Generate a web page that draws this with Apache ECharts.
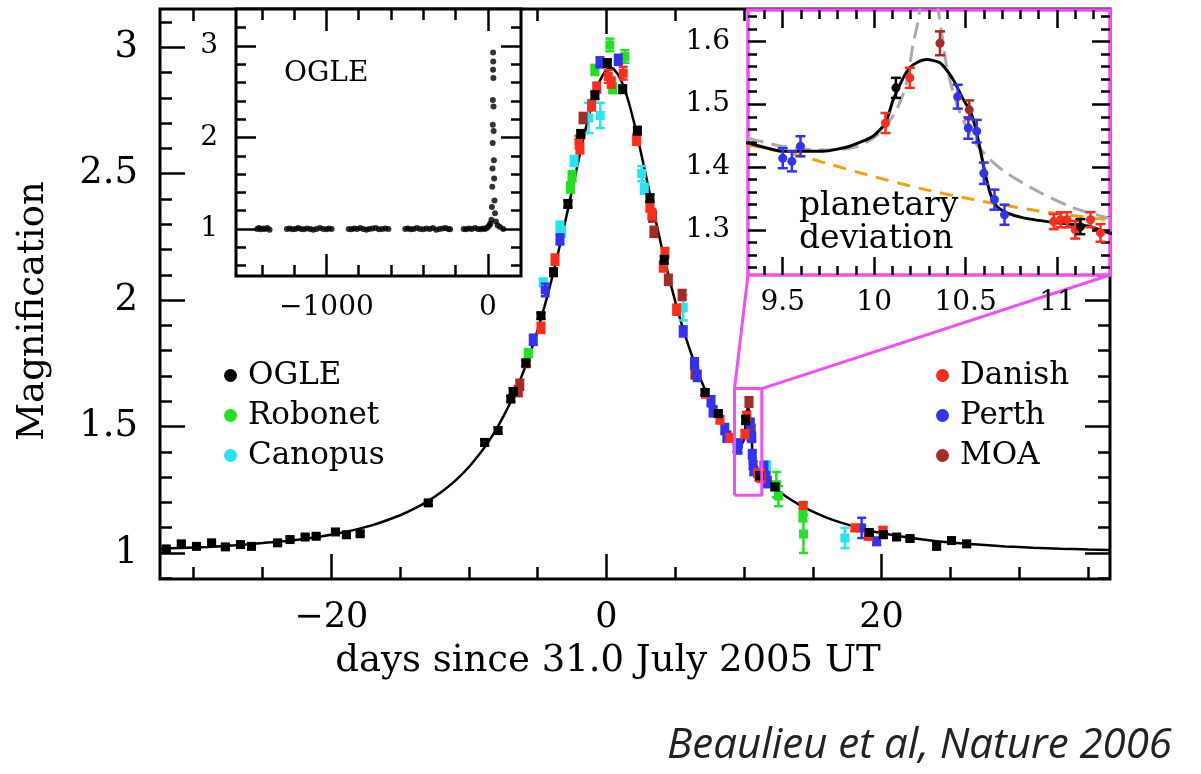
<!DOCTYPE html>
<html><head><meta charset="utf-8">
<script src="https://cdn.jsdelivr.net/npm/echarts@6/dist/echarts.min.js"></script>
<style>html,body{margin:0;padding:0;background:#fff}#c{width:1201px;height:774px}</style>
</head><body><div id="c"></div>
<script>
// ---------------- DATA ----------------
// OGLE (black)
const ogleX = [-32.0,-30.9,-29.8,-28.7,-27.7,-26.6,-25.8,-23.9,-23.0,-21.9,-21.1,-19.7,-18.9,-17.9,-12.95,-8.85,-7.88,-6.95,-6.78,-5.85,-4.76,-3.85,-2.8,-1.87,-0.84,0.06,1.18,2.25,3.16,4.2,7.16,8.13,10.119,11.128,12.25,19.1,20.12,21.09,22.06,24.0,25.08,26.18];
const ogleY = [1.016,1.036,1.026,1.040,1.024,1.033,1.026,1.040,1.053,1.063,1.066,1.083,1.072,1.076,1.198,1.437,1.484,1.609,1.639,1.751,1.938,2.110,2.380,2.657,2.810,2.937,2.834,2.670,2.403,2.159,1.635,1.551,1.526,1.305,1.261,1.081,1.072,1.063,1.057,1.026,1.049,1.036];
const ogleE = [0.008,0.008,0.008,0.008,0.008,0.008,0.008,0.008,0.008,0.008,0.008,0.008,0.008,0.008,0.010,0.012,0.012,0.012,0.012,0.012,0.012,0.015,0.015,0.015,0.015,0.015,0.015,0.015,0.015,0.015,0.012,0.012,0.016,0.012,0.012,0.010,0.012,0.010,0.010,0.010,0.010,0.010];
// Robonet (green)
const roboX = [-5.68,-2.62,-2.5,-0.84,0.25,0.45,1.34,12.35,12.5,14.28,14.32];
const roboY = [1.790,2.445,2.490,2.910,3.009,2.838,2.963,1.270,1.225,1.145,1.075];
const roboE = [0.015,0.020,0.020,0.020,0.025,0.020,0.025,0.050,0.040,0.020,0.075];
// Canopus (cyan)
const canX = [-4.6,-3.38,-3.26,-2.35,-1.3,-0.45,2.56,2.75,5.58,11.64,17.33];
const canY = [2.07,2.29,2.27,2.55,2.72,2.73,2.50,2.44,1.97,1.342,1.059];
const canE = [0.015,0.020,0.020,0.020,0.060,0.050,0.030,0.020,0.050,0.020,0.040];
// Danish (red)
const danX = [-5.85,-4.76,-3.74,-2.0,-1.93,-1.08,-0.71,0.13,0.35,1.22,2.19,3.16,3.3,4.13,4.25,5.1,7.2,8.25,8.98,10.062,10.195,10.982,11.02,11.055,11.10,11.183,11.238,14.3,18.06,19.03,20.1];
const danY = [1.750,1.890,2.160,2.625,2.600,2.770,2.840,2.884,2.860,2.897,2.634,2.370,2.340,2.133,2.186,1.962,1.630,1.527,1.455,1.470,1.542,1.313,1.316,1.316,1.300,1.316,1.295,1.188,1.099,1.066,1.090];
const danE = [0.015,0.020,0.020,0.025,0.020,0.020,0.020,0.025,0.020,0.025,0.020,0.020,0.020,0.020,0.020,0.020,0.015,0.015,0.015,0.016,0.016,0.012,0.012,0.012,0.014,0.012,0.014,0.012,0.012,0.012,0.012];
// Perth (blue)
const perX = [-5.32,-4.45,-3.38,-0.47,0.86,5.58,6.4,6.6,7.6,7.75,8.6,8.75,9.5,9.55,9.597,10.457,10.515,10.561,10.60,10.658,10.713,11.45,11.6,11.7,18.55,19.64];
const perY = [1.843,2.040,2.240,2.940,2.950,1.876,1.750,1.700,1.600,1.560,1.490,1.460,1.414,1.409,1.433,1.512,1.462,1.457,1.390,1.348,1.324,1.340,1.300,1.280,1.099,1.046];
const perE = [0.020,0.025,0.020,0.020,0.020,0.020,0.020,0.020,0.020,0.020,0.020,0.020,0.016,0.016,0.016,0.019,0.017,0.018,0.017,0.016,0.016,0.020,0.020,0.020,0.040,0.015];
// MOA (brown)
const moaX = [-6.41,-6.3,-1.7,3.35,3.45,4.5,5.5,6.43,10.36,10.52];
const moaY = [1.640,1.665,2.720,2.330,2.270,2.080,2.020,1.710,1.597,1.491];
const moaE = [0.020,0.020,0.020,0.020,0.020,0.020,0.020,0.020,0.019,0.015];
// model curve (black line)
const modelX = [-32.45,-31,-29,-27,-25,-23,-21,-19,-17,-15,-14,-13,-12,-11,-10,-9,-8.5,-8,-7.5,-7,-6.5,-6,-5.5,-5,-4.5,-4,-3.5,-3,-2.5,-2,-1.5,-1,-0.5,0,0.3,0.5,1,1.5,2,2.5,3,3.5,4,4.5,5,5.5,6,6.5,7,7.5,8,8.5,9,9.31,9.5,9.72,9.866,9.994,10.062,10.104,10.159,10.195,10.232,10.287,10.36,10.433,10.479,10.525,10.552,10.58,10.607,10.634,10.671,10.726,10.817,11.0,11.183,11.284,11.6,12,12.5,13,14,15,16,17,19,21,23,25,27,29,31,33,35,36.6];
const modelY = [1.017,1.020,1.024,1.030,1.039,1.049,1.063,1.083,1.110,1.149,1.174,1.204,1.241,1.285,1.340,1.407,1.446,1.490,1.539,1.593,1.654,1.722,1.797,1.882,1.975,2.078,2.190,2.309,2.434,2.560,2.680,2.785,2.865,2.911,2.918,2.915,2.877,2.804,2.703,2.585,2.459,2.334,2.213,2.099,1.995,1.899,1.814,1.736,1.667,1.605,1.549,1.499,1.454,1.438,1.425,1.425,1.433,1.449,1.470,1.507,1.542,1.558,1.566,1.571,1.566,1.539,1.512,1.489,1.465,1.428,1.390,1.359,1.337,1.327,1.319,1.311,1.305,1.295,1.285,1.266,1.245,1.225,1.191,1.163,1.140,1.121,1.090,1.069,1.053,1.041,1.033,1.026,1.021,1.017,1.014,1.012];
// alternative binary model (grey dashed, zoom panel)
const altLeftX = [9.31,9.5,9.72,9.9,10.03,10.122,10.177,10.214,10.24,10.255];
const altLeftY = [1.446,1.433,1.427,1.432,1.454,1.491,1.534,1.597,1.632,1.665];
const altRightX = [10.345,10.37,10.397,10.433,10.47,10.543,10.634,10.726,10.91,11.09,11.29];
const altRightY = [1.660,1.613,1.560,1.518,1.486,1.443,1.412,1.390,1.359,1.335,1.318];
// single-lens curve without planet (orange dashed, zoom panel)
const sglX = [9.31,9.537,9.75,9.994,10.25,10.544,10.9,11.277];
const sglY = [1.435,1.422,1.405,1.385,1.366,1.348,1.330,1.316];
// OGLE long-term baseline (inset)
const ogleLongX = [-1428,-1418,-1405,-1392,-1380,-1366,-1352,
  -1245,-1228,-1210,-1192,-1175,-1158,-1140,-1120,-1100,-1082,-1062,-1040,-1020,-1000,-985,-968,
  -862,-845,-828,-810,-790,-772,-752,-735,-715,-695,-675,-655,-635,-616,
  -512,-495,-478,-460,-440,-420,-400,-380,-360,-340,-320,-300,-280,-262,-245,-234,
  -150,-135,-118,-100,-80,-62,-45,-30,-18,-8,0,
  10,15,22,25,27,28.5,29.5,30.3,31,31.8,32.4,33,33.8,34.7,35.6,37,38.5,41,44,50,60,75,95];
const ogleLongY = [1.00,1.01,0.995,1.005,1.00,1.01,0.99,
  1.00,1.005,0.995,1.00,1.01,1.00,0.995,1.005,1.00,0.99,1.00,1.01,1.00,0.995,1.005,1.00,
  1.00,0.995,1.005,1.00,1.01,1.00,0.99,1.00,1.005,1.01,0.995,1.00,1.005,1.00,
  1.00,1.005,0.995,1.00,1.01,1.00,0.995,1.005,1.00,1.01,0.99,1.00,1.005,1.01,1.00,0.995,
  1.00,0.995,1.005,1.00,1.01,1.00,0.995,1.005,1.00,1.01,1.02,
  1.04,1.06,1.10,1.24,1.46,1.66,1.94,2.14,2.41,2.74,2.93,2.83,2.65,2.34,2.07,1.75,1.55,1.31,1.17,1.08,1.04,1.02,1.00];
// axis ranges, zoom window, ticks
const mainXRange = [-32.45, 36.6], mainYRange = [0.897, 3.151];
const longXRange = [-1560, 205], longYRange = [0.485, 3.405];
const zoomX = [9.31, 11.29], zoomY = [1.228, 1.65];
const mainXMajor = [-20, 0, 20], mainXMinor = [-30,-25,-15,-10,-5,5,10,15,25,30,35];
const mainYMajor = [1, 1.5, 2, 2.5, 3], mainYMinor = [0.9,1.1,1.2,1.3,1.4,1.6,1.7,1.8,1.9,2.1,2.2,2.3,2.4,2.6,2.7,2.8,2.9,3.1];
const longXMajor = [-1000, 0], longXMinor = [-1400,-1200,-800,-600,-400,-200];
const longYMajor = [1, 2, 3], longYMinor = [0.6,0.8,1.2,1.4,1.6,1.8,2.2,2.4,2.6,2.8,3.2];
const zoomXMajor = [9.5, 10, 10.5, 11], zoomXMinor = [9.4,9.6,9.7,9.8,9.9,10.1,10.2,10.3,10.4,10.6,10.7,10.8,10.9,11.1,11.2];
const zoomYMajor = [1.3, 1.4, 1.5, 1.6], zoomYMinor = [1.24,1.26,1.28,1.32,1.34,1.36,1.38,1.42,1.44,1.46,1.48,1.52,1.54,1.56,1.58,1.62,1.64];

// ---------------- CHART ----------------
const FONT = 'DejaVu Serif';
const C = {OGLE:'#000000', Robonet:'#22e022', Canopus:'#25e6ee', Danish:'#fb2d1c', Perth:'#3232f0', MOA:'#a52a2a'};
const MAG = '#f050f0';
const fmt = v => (v < 0 ? '\u2212' + Math.abs(v) : String(v));

function ax(grid, pos, range, ticks, len, z, labels, fontSize, margin) {
  const o = {
    type: 'value', gridIndex: grid, position: pos, min: range[0], max: range[1], z: z,
    axisLine: {show: false, onZero: false}, splitLine: {show: false},
    axisTick: {show: true, inside: true, length: len, customValues: ticks, lineStyle: {color: '#000', width: 2.5}},
    axisLabel: {show: false}
  };
  if (labels) {
    o.axisLabel = {show: true, customValues: labels, fontFamily: FONT, fontSize: fontSize, color: '#000', margin: margin, formatter: fmt};
  }
  return o;
}

const xAxes = [
  ax(0,'bottom',mainXRange,mainXMajor,25,1,mainXMajor,35,21),
  ax(0,'bottom',mainXRange,mainXMinor,12,1),
  ax(0,'top',mainXRange,mainXMajor,25,1),
  ax(0,'top',mainXRange,mainXMinor,12,1),
  ax(1,'bottom',longXRange,longXMajor,22,11,longXMajor,28,18),
  ax(1,'bottom',longXRange,longXMinor,11,11),
  ax(1,'top',longXRange,longXMajor,22,11),
  ax(1,'top',longXRange,longXMinor,11,11),
  ax(2,'bottom',zoomX,zoomXMajor,18,11,zoomXMajor,28,14),
  ax(2,'bottom',zoomX,zoomXMinor,9,11),
  ax(2,'top',zoomX,zoomXMajor,18,11),
  ax(2,'top',zoomX,zoomXMinor,9,11)
];
const yAxes = [
  ax(0,'left',mainYRange,mainYMajor,25,1,mainYMajor,37,22),
  ax(0,'left',mainYRange,mainYMinor,12,1),
  ax(0,'right',mainYRange,mainYMajor,25,1),
  ax(0,'right',mainYRange,mainYMinor,12,1),
  ax(1,'left',longYRange,longYMajor,20,11,longYMajor,28,18),
  ax(1,'left',longYRange,longYMinor,10,11),
  ax(1,'right',longYRange,longYMajor,20,11),
  ax(1,'right',longYRange,longYMinor,10,11),
  ax(2,'left',zoomY,zoomYMajor,18,11,zoomYMajor,28,18),
  ax(2,'left',zoomY,zoomYMinor,9,11),
  ax(2,'right',zoomY,zoomYMajor,18,11),
  ax(2,'right',zoomY,zoomYMinor,9,11)
];
xAxes[0].name = 'days since 31.0 July 2005 UT';
xAxes[0].nameLocation = 'middle';
xAxes[0].nameGap = 64;
xAxes[0].nameTextStyle = {fontFamily: FONT, fontSize: 37, color: '#000', padding: [0, 54, 0, 0]};
yAxes[0].name = 'Magnification';
yAxes[0].nameLocation = 'middle';
yAxes[0].nameGap = 108;
yAxes[0].nameRotate = 90;
yAxes[0].nameTextStyle = {fontFamily: FONT, fontSize: 37, color: '#000', padding: [0, 34, 0, 0]};

function errRender(color, shape, size, cap) {
  return function (params, api) {
    const x = api.value(0), y = api.value(1), e = api.value(2);
    const p = api.coord([x, y]);
    const lo = api.coord([x, y - e]), hi = api.coord([x, y + e]);
    const ls = {stroke: color, lineWidth: 2.5};
    return {type: 'group', children: [
      {type: 'line', shape: {x1: p[0], y1: lo[1], x2: p[0], y2: hi[1]}, style: ls},
      {type: 'line', shape: {x1: p[0] - cap, y1: lo[1], x2: p[0] + cap, y2: lo[1]}, style: ls},
      {type: 'line', shape: {x1: p[0] - cap, y1: hi[1], x2: p[0] + cap, y2: hi[1]}, style: ls},
      shape === 'square'
        ? {type: 'rect', shape: {x: p[0] - size, y: p[1] - size, width: 2 * size, height: 2 * size}, style: {fill: color}}
        : {type: 'circle', shape: {cx: p[0], cy: p[1], r: size}, style: {fill: color}}
    ]};
  };
}
const pts = (X, Y, E) => X.map((x, i) => [x, Y[i], E[i]]);
const xy = (X, Y) => X.map((x, i) => [x, Y[i]]);

const sets = [
  ['Robonet', roboX, roboY, roboE],
  ['Canopus', canX, canY, canE],
  ['MOA', moaX, moaY, moaE],
  ['Perth', perX, perY, perE],
  ['Danish', danX, danY, danE],
  ['OGLE', ogleX, ogleY, ogleE]
];

const series = [];
series.push({type: 'line', name: 'model', xAxisIndex: 0, yAxisIndex: 0, data: xy(modelX, modelY),
  showSymbol: false, smooth: 0.2, lineStyle: {color: '#000', width: 2.5}, z: 2, silent: true});
sets.forEach(s => series.push({type: 'custom', name: s[0], xAxisIndex: 0, yAxisIndex: 0, clip: true,
  itemStyle: {color: C[s[0]]}, data: pts(s[1], s[2], s[3]), renderItem: errRender(C[s[0]], 'square', 4.5, 4.5), z: 3}));
series.push({type: 'line', name: 'box', xAxisIndex: 0, yAxisIndex: 0,
  data: [[zoomX[0], zoomY[0]], [zoomX[0], zoomY[1]], [zoomX[1], zoomY[1]], [zoomX[1], zoomY[0]], [zoomX[0], zoomY[0]]],
  showSymbol: false, lineStyle: {color: MAG, width: 3}, z: 4, silent: true});
series.push({type: 'scatter', name: 'OGLE', xAxisIndex: 4, yAxisIndex: 4, data: xy(ogleLongX, ogleLongY),
  symbol: 'circle', symbolSize: 6, itemStyle: {color: '#000'}, z: 13, silent: true});
series.push({type: 'line', name: 'single', xAxisIndex: 8, yAxisIndex: 8, data: xy(sglX, sglY),
  showSymbol: false, smooth: 0.3, lineStyle: {color: '#f5a010', width: 3, type: [13, 9]}, z: 12, silent: true});
series.push({type: 'line', name: 'altL', xAxisIndex: 8, yAxisIndex: 8, data: xy(altLeftX, altLeftY),
  showSymbol: false, smooth: 0.3, lineStyle: {color: '#aaaaaa', width: 3, type: [16, 8]}, z: 12, silent: true});
series.push({type: 'line', name: 'altR', xAxisIndex: 8, yAxisIndex: 8, data: xy(altRightX, altRightY),
  showSymbol: false, smooth: 0.3, lineStyle: {color: '#aaaaaa', width: 3, type: [16, 8]}, z: 12, silent: true});
series.push({type: 'line', name: 'modelZ', xAxisIndex: 8, yAxisIndex: 8, data: xy(modelX, modelY),
  showSymbol: false, smooth: 0.2, lineStyle: {color: '#000', width: 3}, z: 12, silent: true});
sets.forEach(s => series.push({type: 'custom', name: s[0], xAxisIndex: 8, yAxisIndex: 8, clip: true,
  itemStyle: {color: C[s[0]]}, data: pts(s[1], s[2], s[3]), renderItem: errRender(C[s[0]], 'circle', 4.5, 5), z: 13}));

const legendText = {fontFamily: FONT, fontSize: 31, lineHeight: 30, color: '#000', padding: [0, 0, 0, 6]};
const option = {
  animation: false,
  backgroundColor: '#fff',
  grid: [
    {left: 160, top: 9, width: 950, height: 570, show: true, borderColor: '#000', borderWidth: 3, backgroundColor: 'transparent', z: 0},
    {left: 236, top: 9, width: 285, height: 267, show: true, borderColor: '#000', borderWidth: 3, backgroundColor: '#fff', z: 10},
    {left: 748, top: 10, width: 362, height: 265, show: true, borderColor: MAG, borderWidth: 3.5, backgroundColor: '#fff', z: 10}
  ],
  xAxis: xAxes,
  yAxis: yAxes,
  legend: [
    {data: ['OGLE', 'Robonet', 'Canopus'], orient: 'vertical', left: 219, top: 355, icon: 'circle', itemWidth: 13, itemHeight: 13,
     itemGap: 9, selectedMode: false, textStyle: legendText},
    {data: ['Danish', 'Perth', 'MOA'], orient: 'vertical', left: 931, top: 355, icon: 'circle', itemWidth: 13, itemHeight: 13,
     itemGap: 9, selectedMode: false, textStyle: legendText}
  ],
  series: series
};

const chart = echarts.init(document.getElementById('c'), null, {renderer: 'canvas'});
chart.setOption(option);

const a1 = chart.convertToPixel({xAxisIndex: 0, yAxisIndex: 0}, [zoomX[0], zoomY[1]]);
const a2 = chart.convertToPixel({xAxisIndex: 0, yAxisIndex: 0}, [zoomX[1], zoomY[1]]);
const b1 = chart.convertToPixel({xAxisIndex: 8, yAxisIndex: 8}, [zoomX[0], zoomY[0]]);
const b2 = chart.convertToPixel({xAxisIndex: 8, yAxisIndex: 8}, [zoomX[1], zoomY[0]]);
chart.setOption({graphic: [
  {type: 'line', shape: {x1: a1[0], y1: a1[1], x2: b1[0], y2: b1[1]}, style: {stroke: MAG, lineWidth: 3}, z: 5, silent: true},
  {type: 'line', shape: {x1: a2[0], y1: a2[1], x2: b2[0], y2: b2[1]}, style: {stroke: MAG, lineWidth: 3}, z: 5, silent: true},
  {type: 'text', left: 284, top: 60, style: {text: 'OGLE', font: '28px "DejaVu Serif"', fill: '#000'}, z: 20, silent: true},
  {type: 'text', left: 799, top: 190, style: {text: 'planetary\ndeviation', font: '33px "DejaVu Serif"', lineHeight: 33, fill: '#000'}, z: 20, silent: true},
  {type: 'text', right: 29, top: 725, style: {text: 'Beaulieu et al, Nature 2006', font: 'italic 42px "Open Sans"', fill: '#222'}, z: 20, silent: true}
]});
</script></body></html>
